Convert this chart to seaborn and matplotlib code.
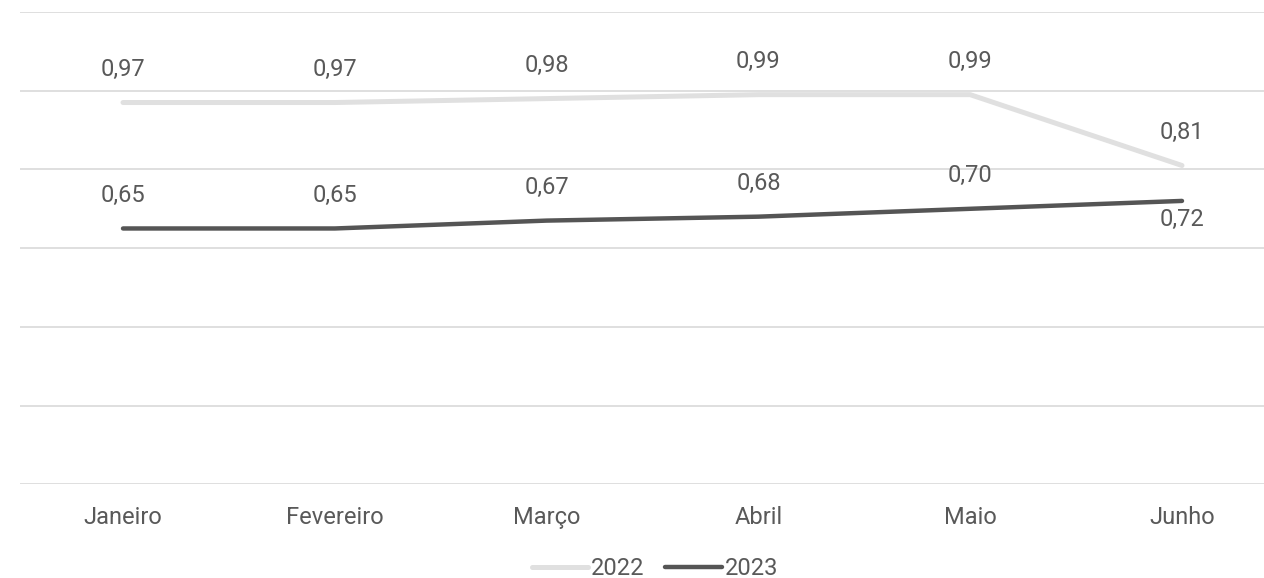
import pandas as pd
import matplotlib
matplotlib.use('Agg')
import matplotlib.pyplot as plt
import seaborn as sns

meses = ['Janeiro', 'Fevereiro', 'Março', 'Abril', 'Maio', 'Junho']
valores_2022 = [0.97, 0.97, 0.98, 0.99, 0.99, 0.81]
valores_2023 = [0.65, 0.65, 0.67, 0.68, 0.70, 0.72]
anos = ['2022', '2023']

cor_texto = '#595959'
cores = {'2022': '#e0e0e0', '2023': '#555555'}
larguras = {'2022': 3.6, '2023': 3.2}
tam = 17

sns.set_theme(style='white')
plt.rcParams['font.family'] = ['Roboto', 'DejaVu Sans']
plt.rcParams['lines.solid_capstyle'] = 'round'

df = pd.DataFrame({
    'pos': list(range(len(meses))) * 2,
    'valor': valores_2022 + valores_2023,
    'ano': ['2022'] * len(meses) + ['2023'] * len(meses),
})

fig = plt.figure(figsize=(12.64, 5.78), dpi=100)
ax = fig.add_axes([20 / 1264, (578 - 484.3) / 578, 1 - 20 / 1264, (484.3 - 12) / 578])

for ano in anos:
    sub = df[df['ano'] == ano]
    sns.lineplot(data=sub, x='pos', y='valor', color=cores[ano], linewidth=larguras[ano],
                 label=ano, ax=ax, legend=False)

# rótulos de dados
for i, v in enumerate(valores_2022):
    ax.annotate(f'{v:.2f}'.replace('.', ','), (i, v), xytext=(0, 24), textcoords='offset points',
                ha='center', va='center', fontsize=tam, color=cor_texto)
for i, v in enumerate(valores_2023):
    dy = -13 if i == len(valores_2023) - 1 else 24
    ax.annotate(f'{v:.2f}'.replace('.', ','), (i, v), xytext=(0, dy), textcoords='offset points',
                ha='center', va='center', fontsize=tam, color=cor_texto)

ax.set_ylim(0, 1.2)
ax.set_yticks([0, 0.2, 0.4, 0.6, 0.8, 1.0, 1.2])
ax.set_xlim(-103 / 211.8, 5 + 82 / 211.8)
ax.set_xticks(range(len(meses)))
ax.set_xticklabels(meses)
ax.yaxis.grid(True, color='#d9d9d9', linewidth=1.2)
ax.xaxis.grid(False)
ax.tick_params(axis='x', length=0, pad=15.5, labelsize=tam, labelcolor=cor_texto)
ax.tick_params(axis='y', length=0, labelleft=False)
ax.set_xlabel('')
ax.set_ylabel('')
sns.despine(ax=ax, left=True, bottom=True)

handles = [plt.Line2D([], [], color=cores[a], linewidth=larguras[a]) for a in anos]
fig.legend(handles, anos, loc='lower center', bbox_to_anchor=(0.518, -0.04), ncol=2, frameon=False,
           fontsize=tam, labelcolor=cor_texto, handlelength=2.4, handletextpad=0.1, columnspacing=0.9)

fig.savefig('out.png', dpi=100)
